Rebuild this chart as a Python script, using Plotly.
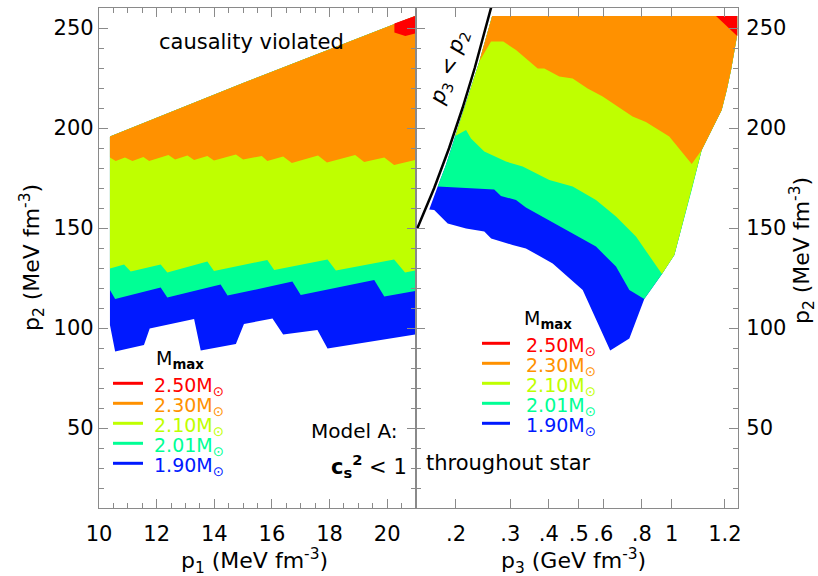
import math
import plotly.graph_objects as go

# ---------------- colours / levels ----------------
LEVEL_NAMES = ["1.90", "2.01", "2.10", "2.30", "2.50"]
LEVEL_COLORS = ["#0019ff", "#00ff95", "#bfff00", "#ff9100", "#ff0000"]

# ---------------- left panel (p1 in MeV fm^-3, p2 in MeV fm^-3) ----------------
L_CAUSAL_P1 = [10.38, 15.0, 20.97]
L_CAUSAL_P2 = [195.7, 222.5, 256.0]

L_B230_P1 = [10.38, 10.58, 10.90, 11.16, 11.54, 11.74, 12.41, 12.64, 13.07, 13.30, 13.76, 13.99, 14.75,
             15.00, 15.65, 15.84, 16.39, 16.69, 17.60, 17.91, 18.89, 19.20, 19.90, 20.24, 20.97]
L_B230_P2 = [185.3, 183.5, 185.3, 183.5, 185.5, 183.5, 186.5, 184.2, 186.3, 184.0, 186.0, 183.7, 186.8,
             184.3, 186.0, 183.5, 185.7, 182.5, 186.2, 182.8, 186.5, 183.0, 185.3, 181.5, 184.0]

L_B210_P1 = [10.38, 10.87, 11.10, 12.14, 12.37, 13.76, 13.99, 15.84, 16.08, 17.93, 18.22, 20.24, 20.62, 20.97]
L_B210_P2 = [129.8, 131.8, 128.2, 131.8, 127.8, 133.2, 128.5, 134.0, 129.0, 134.3, 128.7, 134.3, 127.8, 128.7]

L_B201_P1 = [10.38, 10.56, 12.14, 12.37, 14.22, 14.46, 16.71, 17.00, 19.55, 19.90, 20.97]
L_B201_P2 = [119.0, 114.5, 120.3, 115.3, 121.8, 116.2, 123.2, 116.5, 124.0, 115.8, 118.5]

L_B190_P1 = [10.38, 10.56, 11.56, 11.76, 13.30, 13.53, 14.75, 15.03, 16.02, 16.39, 17.58, 17.93, 20.97]
L_B190_P2 = [101.5, 88.2, 91.5, 99.8, 104.5, 88.7, 92.0, 102.0, 104.8, 96.8, 99.0, 89.8, 96.8]

L_R250_P1 = [20.25, 20.97, 20.97, 20.63, 20.25]
L_R250_P2 = [252.3, 256.0, 247.3, 246.0, 247.8]

# ---------------- right panel (p3 in GeV fm^-3, p2 in MeV fm^-3) ----------------
R_LINE_P3 = [0.150, 0.170, 0.190, 0.210, 0.230, 0.250, 0.265]
R_LINE_P2 = [150, 170, 190, 210, 230, 250, 265]

R_LEFT_P3 = [0.1638, 0.1745, 0.185, 0.199, 0.217, 0.238, 0.262]
R_LEFT_P2 = [159.3, 170.7, 181.0, 196.0, 214.0, 233.2, 256.0]

R_RIGHT_P3 = [1.63, 1.63, 1.557, 1.508, 1.452, 1.251, 1.161, 1.02, 0.93, 0.815, 0.729, 0.632]
R_RIGHT_P2 = [256.0, 246.5, 229.0, 219.0, 209.0, 189.0, 169.0, 136.5, 127.0, 114.5, 94.8, 88.7]

R_B190_P3 = [0.1638, 0.170, 0.188, 0.2156, 0.247, 0.26, 0.305, 0.337, 0.4115, 0.5148, 0.632]
R_B190_P2 = [159.3, 159.0, 152.3, 149.8, 148.2, 144.8, 141.5, 139.8, 132.3, 119.0, 88.7]

R_B201_P3 = [0.1745, 0.266, 0.2798, 0.313, 0.337, 0.4013, 0.4777, 0.5684, 0.66, 0.729, 0.815]
R_B201_P2 = [170.7, 169.3, 166.0, 164.0, 160.3, 154.0, 147.3, 140.7, 130.7, 119.0, 114.5]

R_B210_P3 = [0.199, 0.2156, 0.2237, 0.247, 0.2904, 0.329, 0.4013, 0.4777, 0.5684, 0.66, 0.766, 0.93]
R_B210_P2 = [196.0, 199.0, 194.8, 188.2, 183.2, 180.7, 174.0, 170.7, 164.0, 155.7, 145.7, 127.0]

R_B230_P3 = [0.238, 0.2597, 0.2846, 0.313, 0.368, 0.3866, 0.4323, 0.4777, 0.534, 0.5975, 0.668, 0.747,
             0.825, 0.982, 1.161, 1.251]
R_B230_P2 = [233.2, 243.2, 243.2, 239.0, 229.8, 229.8, 225.7, 224.8, 219.8, 215.7, 210.7, 205.7,
             203.0, 195.7, 182.0, 189.0]

R_R250_P3 = [1.392, 1.63, 1.63]
R_R250_P2 = [256.0, 256.0, 246.0]

# ---------------- ticks ----------------
L_XTICKS = [10, 12, 14, 16, 18, 20]
Y_TICKS = [50, 100, 150, 200, 250]
R_XTICK_VALS = [0.2, 0.3, 0.4, 0.5, 0.6, 0.8, 1.0, 1.488]
R_XTICK_TEXT = [".2", ".3", ".4", ".5", ".6", ".8", "1", "1.2"]

FONT = "DejaVu Sans"
FRAME = "#8a8a8a"

fig = go.Figure()


def left_poly(bx, by):
    return L_CAUSAL_P1 + bx[::-1], L_CAUSAL_P2 + by[::-1]


def right_poly(bx, by):
    xs, ys = list(bx), list(by)
    up = [(x, y) for x, y in zip(R_RIGHT_P3, R_RIGHT_P2) if y > by[-1]][::-1]
    down = [(x, y) for x, y in zip(R_LEFT_P3, R_LEFT_P2) if y > by[0]][::-1]
    for x, y in up + down:
        xs.append(x)
        ys.append(y)
    return xs, ys


left_bounds = [(L_B190_P1, L_B190_P2), (L_B201_P1, L_B201_P2), (L_B210_P1, L_B210_P2), (L_B230_P1, L_B230_P2)]
right_bounds = [(R_B190_P3, R_B190_P2), (R_B201_P3, R_B201_P2), (R_B210_P3, R_B210_P2), (R_B230_P3, R_B230_P2)]

for (bx, by), col in zip(left_bounds, LEVEL_COLORS):
    x, y = left_poly(bx, by)
    fig.add_trace(go.Scatter(x=x, y=y, fill="toself", fillcolor=col, line=dict(width=0, color=col),
                             mode="lines", xaxis="x", yaxis="y", hoverinfo="skip", showlegend=False))
fig.add_trace(go.Scatter(x=L_R250_P1, y=L_R250_P2, fill="toself", fillcolor=LEVEL_COLORS[4],
                         line=dict(width=0, color=LEVEL_COLORS[4]), mode="lines", xaxis="x", yaxis="y",
                         hoverinfo="skip", showlegend=False))

for (bx, by), col in zip(right_bounds, LEVEL_COLORS):
    x, y = right_poly(bx, by)
    fig.add_trace(go.Scatter(x=x, y=y, fill="toself", fillcolor=col, line=dict(width=0, color=col),
                             mode="lines", xaxis="x2", yaxis="y2", hoverinfo="skip", showlegend=False))
fig.add_trace(go.Scatter(x=R_R250_P3, y=R_R250_P2, fill="toself", fillcolor=LEVEL_COLORS[4],
                         line=dict(width=0, color=LEVEL_COLORS[4]), mode="lines", xaxis="x2", yaxis="y2",
                         hoverinfo="skip", showlegend=False))
fig.add_trace(go.Scatter(x=R_LINE_P3, y=R_LINE_P2, mode="lines", line=dict(color="black", width=2.5),
                         xaxis="x2", yaxis="y2", hoverinfo="skip", showlegend=False))

# ---------------- layout ----------------
PL, PR, PT, PB = 99, 738, 8, 508
W, H = 818, 576
split = (416 - PL) / (PR - PL)


def pxx(v):
    return (v - PL) / (PR - PL)


def pxy(v):
    return (PB - v) / (PB - PT)


tickfont = dict(family=FONT, size=21, color="black")
common = dict(showline=True, linecolor=FRAME, linewidth=1.2, mirror="ticks", ticks="inside",
              tickcolor=FRAME, tickwidth=1.2, ticklen=9, showgrid=False, zeroline=False,
              tickfont=tickfont)

fig.update_layout(
    width=W, height=H,
    margin=dict(l=PL, r=W - PR, t=PT, b=H - PB),
    paper_bgcolor="white", plot_bgcolor="white",
    showlegend=False,
    xaxis=dict(domain=[0, split], range=[10, 21], tickvals=L_XTICKS, anchor="y",
               minor=dict(dtick=0.5, ticklen=5, ticks="inside", tickcolor=FRAME, showgrid=False),
               ticklabelstandoff=7, **common),
    yaxis=dict(domain=[0, 1], range=[10, 260], tickvals=Y_TICKS, anchor="x",
               minor=dict(dtick=10, ticklen=5, ticks="inside", tickcolor=FRAME, showgrid=False),
               ticklabelstandoff=0, **common),
    xaxis2=dict(domain=[split, 1], type="log", range=[math.log10(0.1484), math.log10(1.640)],
                tickvals=R_XTICK_VALS, ticktext=R_XTICK_TEXT, anchor="y2",
                ticklabelstandoff=7, **common),
    yaxis2=dict(domain=[0, 1], range=[10, 260], tickvals=Y_TICKS, anchor="x2", side="right",
                minor=dict(dtick=10, ticklen=5, ticks="inside", tickcolor=FRAME, showgrid=False),
                ticklabelstandoff=3, **common),
)

ann = []


def text(x, y, s, size=21, xanchor="center", yanchor="middle", color="black", angle=0):
    ann.append(dict(x=pxx(x), y=pxy(y), xref="paper", yref="paper", text=s, showarrow=False,
                    xanchor=xanchor, yanchor=yanchor, textangle=angle,
                    font=dict(family=FONT, size=size, color=color)))


text(251, 42, "causality violated", 21)
text(449, 68, "<i>p</i><sub>3</sub> &lt; <i>p</i><sub>2</sub>", 21, angle=-71)
text(399, 431, "Model A:", 20, xanchor="right")
text(409, 466, "<b>c<sub>s</sub><sup>2</sup></b> &lt; 1", 21, xanchor="right")
text(424, 463, "throughout star", 21, xanchor="left")

text(179, 561, "p<sub>1</sub> (MeV fm<sup>-3</sup>)", 22, xanchor="left")
text(499, 561, "p<sub>3</sub> (GeV fm<sup>-3</sup>)", 22, xanchor="left")
text(32, 258, "p<sub>2</sub> (MeV fm<sup>-3</sup>)", 22, angle=-90)
text(802, 250, "p<sub>2</sub> (MeV fm<sup>-3</sup>)", 22, angle=-90)

shapes = []
legend_sets = [
    dict(title=(154, 359), key=(113, 143), text_x=152, rows=[383.3, 403.3, 423.3, 443.3, 463.3]),
    dict(title=(522, 319), key=(482, 510), text_x=524, rows=[343.3, 363.3, 383.3, 403.3, 423.3]),
]
for ls in legend_sets:
    text(ls["title"][0], ls["title"][1], "M<sub><b>max</b></sub>", 19, xanchor="left")
    for i, row in enumerate(ls["rows"]):
        lvl = 4 - i
        col = LEVEL_COLORS[lvl]
        shapes.append(dict(type="line", xref="paper", yref="paper", x0=pxx(ls["key"][0]), x1=pxx(ls["key"][1]),
                           y0=pxy(row), y1=pxy(row), line=dict(color=col, width=3)))
        text(ls["text_x"], row + 3, LEVEL_NAMES[lvl] + "M<sub>⊙</sub>", 19, xanchor="left", color=col)

fig.update_layout(annotations=ann, shapes=shapes)
fig.write_html("out.html", config={"displayModeBar": False},
               post_script="document.body.style.margin='0';document.body.style.padding='0';")
